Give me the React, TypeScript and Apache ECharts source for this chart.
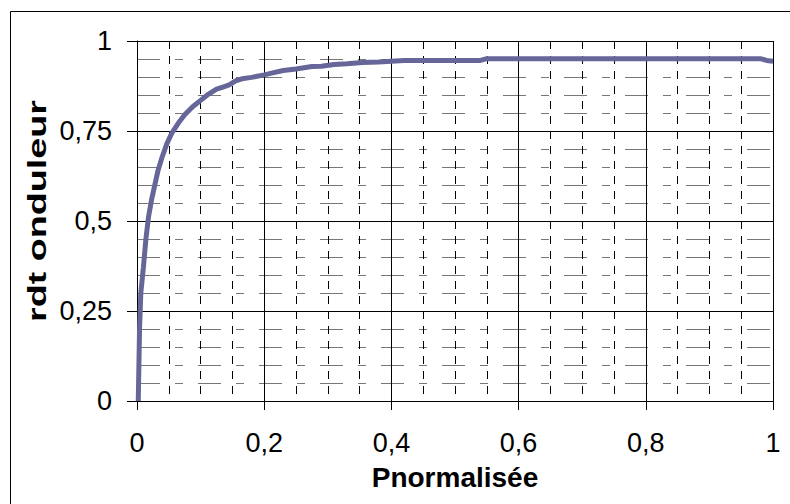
import React, { useEffect, useRef } from "react";
import * as echarts from "echarts";

const pNorm = [0.002, 0.004, 0.006, 0.01, 0.014, 0.018, 0.023, 0.028, 0.033, 0.039, 0.047, 0.055, 0.065, 0.075, 0.088, 0.1, 0.112, 0.125, 0.135, 0.145, 0.155, 0.165, 0.18, 0.2, 0.215, 0.23, 0.25, 0.275, 0.29, 0.31, 0.33, 0.355, 0.38, 0.42, 0.48, 0.54, 0.55, 0.7, 0.85, 0.98, 0.99, 1.0];
const rdt = [0, 0.2, 0.3, 0.37, 0.45, 0.51, 0.56, 0.6, 0.64, 0.675, 0.715, 0.745, 0.772, 0.795, 0.818, 0.835, 0.852, 0.866, 0.872, 0.878, 0.889, 0.895, 0.899, 0.906, 0.912, 0.918, 0.922, 0.929, 0.93, 0.935, 0.937, 0.94, 0.942, 0.946, 0.946, 0.946, 0.951, 0.951, 0.951, 0.951, 0.946, 0.944];

const xTitle = "Pnormalisée";
const yTitle = "rdt onduleur";

const fmt = (v: number) => String(Math.round(v * 100) / 100).replace(".", ",");

export default function App() {
  const ref = useRef<HTMLDivElement>(null);
  useEffect(() => {
    const chart = echarts.init(ref.current!, null, { renderer: "svg" });
    const font = "'Liberation Sans', Arial, sans-serif";
    chart.setOption({
      animation: false,
      backgroundColor: "#ffffff",
      graphic: [
        {
          type: "rect",
          shape: { x: 10.5, y: 11.5, width: 800, height: 520 },
          style: { fill: "none", stroke: "#000", lineWidth: 1 },
          silent: true,
        },
        {
          type: "text",
          x: 37,
          y: 211,
          rotation: Math.PI / 2,
          scaleX: 1.45,
          style: {
            text: yTitle,
            fontFamily: font,
            fontSize: 26,
            fontWeight: "bold",
            fill: "#000",
            align: "center",
            verticalAlign: "middle",
          },
          silent: true,
        },
      ],
      grid: { left: 137, top: 41, right: 17, bottom: 103 },
      xAxis: {
        type: "value",
        min: 0,
        max: 1,
        interval: 0.2,
        name: xTitle,
        nameLocation: "middle",
        nameGap: 62,
        nameTextStyle: { fontFamily: font, fontSize: 28, fontWeight: "bold", color: "#000" },
        axisLine: { show: true, lineStyle: { color: "#000", width: 1 } },
        axisTick: { show: true, length: 9, lineStyle: { color: "#000" } },
        axisLabel: { formatter: fmt, fontFamily: font, fontSize: 27, color: "#000", margin: 28 },
        splitLine: { show: true, lineStyle: { color: "#000", width: 1 } },
        minorTick: { show: false, splitNumber: 4 },
        minorSplitLine: { show: true, lineStyle: { color: "#000", width: 1, type: [8, 7] } },
      },
      yAxis: {
        type: "value",
        min: 0,
        max: 1,
        interval: 0.25,
        axisLine: { show: true, lineStyle: { color: "#000", width: 1 } },
        axisTick: { show: true, length: 10, lineStyle: { color: "#000" } },
        axisLabel: { formatter: fmt, fontFamily: font, fontSize: 27, color: "#000", margin: 25 },
        splitLine: { show: true, lineStyle: { color: "#000", width: 1 } },
        minorTick: { show: false, splitNumber: 5 },
        minorSplitLine: { show: true, lineStyle: { color: "#777", width: 1, type: [23, 15, 8, 15] } },
      },
      series: [
        {
          type: "line",
          data: pNorm.map((x, i) => [x, rdt[i]]),
          showSymbol: false,
          symbol: "none",
          lineStyle: { color: "#666699", width: 5 },
          z: 5,
        },
      ],
    });
    return () => chart.dispose();
  }, []);
  return (
    <div
      ref={ref}
      style={{ position: "fixed", left: 0, top: 0, width: 790, height: 504, background: "#fff" }}
    />
  );
}
